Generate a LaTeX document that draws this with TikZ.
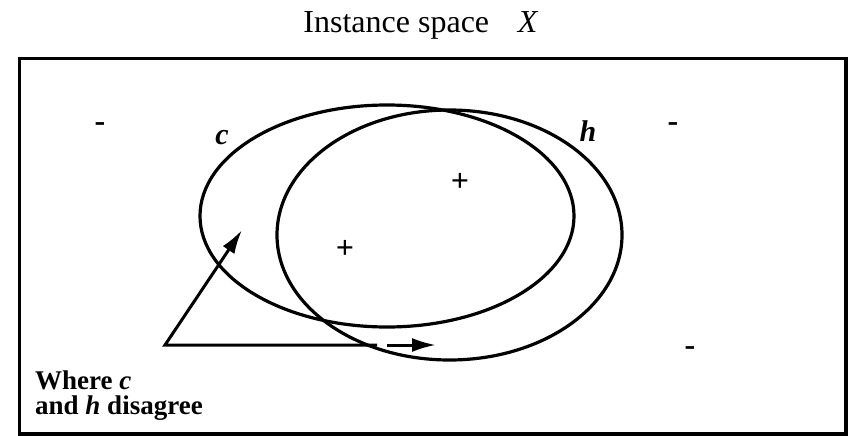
\documentclass[tikz,border=0pt]{standalone}
\usepackage{fontspec}
\setmainfont{Liberation Serif}
\usepackage{tikz}
\usetikzlibrary{positioning,arrows.meta,shapes.geometric}

\begin{document}
\begin{tikzpicture}[x=1pt,y=-1pt,
          every node/.style={font=\fontsize{28}{25}\selectfont,inner sep=0pt},
          region/.style={ellipse,draw,line width=3.2pt},
          sign/.style={font=\fontsize{32}{32}\selectfont\bfseries},
          lab/.style={font=\fontsize{30}{30}\selectfont\bfseries\itshape},
          ar/.style={-{Latex[length=24pt,width=14pt]},line width=3pt}]
        \useasboundingbox (0,0) rectangle (851,436);
        \draw[line width=3.2pt] (19.5,58.5) rectangle (846,434);
        \node[anchor=base,font=\fontsize{32}{32}\selectfont] (title) at (421,33)
        {Instance space\hspace{0.9em}\textit{X}};
        \node[region,minimum width=374pt,minimum height=222pt] (c) at (387,216) {};
        \node[region,minimum width=345pt,minimum height=250pt] (h) at (449.5,235) {};
        \node[lab] (clab) at (222,138) {c};
        \node[lab] (hlab) at (588,131) {h};
        \node[sign] (neg1) at (100,127) {-};
        \node[sign] (neg2) at (673,127) {-};
        \node[sign] (neg3) at (690,351) {-};
        \node[sign] (pos1) at (460,182) {+};
        \node[sign] (pos2) at (345,249) {+};
        \node[anchor=north west,align=left,font=\fontsize{27}{25}\selectfont\bfseries]
        (note) at (35,371)
        {Where \textit{c}\\and \textit{h} disagree};
        \coordinate (corner) at (165,345);
        \coordinate (uptip) at (242,230);
        \coordinate (lineend) at (377,345);
        \coordinate (gapstart) at (387,345);
        \coordinate (righttip) at (436,345);
        \draw[ar,line join=miter] (lineend)--(corner)--(uptip);
        \draw[ar] (gapstart)--(righttip);
      \end{tikzpicture}
\end{document}
